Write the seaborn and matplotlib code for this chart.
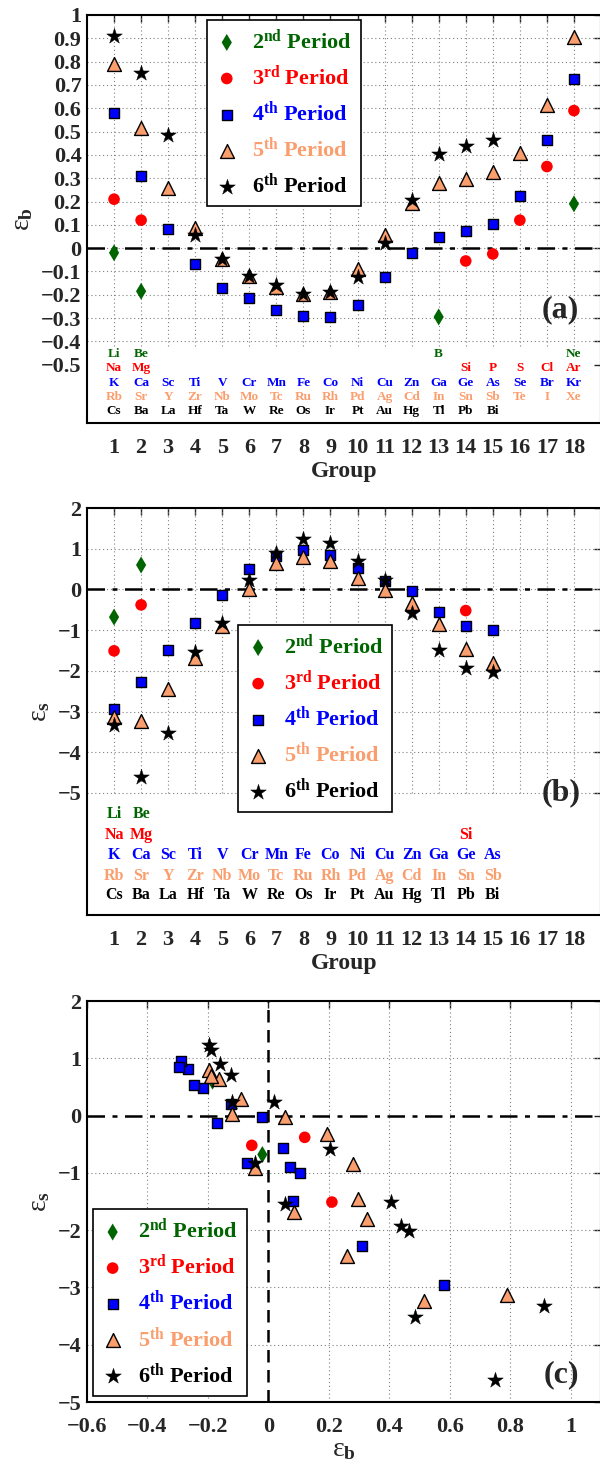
import numpy as np
import pandas as pd
import seaborn as sns
import matplotlib
matplotlib.use('Agg')
from matplotlib import pyplot as plt

sns.set_style('white')
plt.rcParams['font.family'] = ['Liberation Serif', 'DejaVu Serif']
plt.rcParams['font.weight'] = 'bold'
plt.rcParams['axes.labelweight'] = 'bold'
plt.rcParams['mathtext.fontset'] = 'custom'
plt.rcParams['mathtext.rm'] = 'Liberation Serif'
plt.rcParams['mathtext.bf'] = 'Liberation Serif:bold'
plt.rcParams['mathtext.it'] = 'Liberation Serif:italic'

# %% values
Periods = ['2nd', '3rd', '4th', '5th', '6th']

Groups2 = [1, 2, 13, 18]
Elem2 = ['Li', 'Be', 'B', 'Ne']
Eb2 = [-0.02, -0.185, -0.295, 0.19]
Es2 = [-0.68, 0.60, np.nan, np.nan]

Groups3 = [1, 2, 14, 15, 16, 17, 18]
Elem3 = ['Na', 'Mg', 'Si', 'P', 'S', 'Cl', 'Ar']
Eb3 = [0.21, 0.12, -0.055, -0.025, 0.12, 0.35, 0.59]
Es3 = [-1.51, -0.38, -0.52, np.nan, np.nan, np.nan, np.nan]

Groups4 = list(range(1, 19))
Elem4 = ['K', 'Ca', 'Sc', 'Ti', 'V', 'Cr', 'Mn', 'Fe', 'Co', 'Ni', 'Cu', 'Zn',
         'Ga', 'Ge', 'As', 'Se', 'Br', 'Kr']
Eb4 = [0.58, 0.31, 0.08, -0.07, -0.17, -0.215, -0.265, -0.29, -0.295, -0.245,
       -0.125, -0.02, 0.047, 0.072, 0.105, 0.225, 0.465, 0.725]
Es4 = [-2.95, -2.28, -1.49, -0.83, -0.13, 0.49, 0.82, 0.96, 0.84, 0.53, 0.21,
       -0.03, -0.56, -0.89, -1.0, np.nan, np.nan, np.nan]

Groups5 = list(range(1, 19))
Elem5 = ['Rb', 'Sr', 'Y', 'Zr', 'Nb', 'Mo', 'Tc', 'Ru', 'Rh', 'Pd', 'Ag', 'Cd',
         'In', 'Sn', 'Sb', 'Te', 'I', 'Xe']
Eb5 = [0.79, 0.515, 0.26, 0.085, -0.045, -0.12, -0.165, -0.195, -0.19, -0.09,
       0.055, 0.195, 0.28, 0.295, 0.325, 0.41, 0.615, 0.905]
Es5 = [-3.14, -3.24, -2.45, -1.69, -0.91, 0.02, 0.64, 0.80, 0.69, 0.29, -0.02,
       -0.33, -0.85, -1.46, -1.81, np.nan, np.nan, np.nan]

Groups6 = list(range(1, 16))
Elem6 = ['Cs', 'Ba', 'La', 'Hf', 'Ta', 'W', 'Re', 'Os', 'Ir', 'Pt', 'Au', 'Hg',
         'Tl', 'Pb', 'Bi']
Eb6 = [0.91, 0.75, 0.485, 0.055, -0.045, -0.12, -0.16, -0.195, -0.19, -0.125,
       0.02, 0.205, 0.405, 0.44, 0.465]
Es6 = [-3.32, -4.61, -3.52, -1.55, -0.82, 0.23, 0.90, 1.23, 1.14, 0.70, 0.24,
       -0.59, -1.50, -1.92, -2.02]

GroupTicks = list(range(1, 19))
EbTicks = [-0.5, -0.4, -0.3, -0.2, -0.1, 0, 0.1, 0.2, 0.3, 0.4, 0.5, 0.6, 0.7,
           0.8, 0.9, 1]
EsTicks = [-5, -4, -3, -2, -1, 0, 1, 2]
EbTicksC = [-0.6, -0.4, -0.2, 0, 0.2, 0.4, 0.6, 0.8, 1]

# %% build table
rows = []
for per, gr, el, eb, es in zip(Periods,
                               (Groups2, Groups3, Groups4, Groups5, Groups6),
                               (Elem2, Elem3, Elem4, Elem5, Elem6),
                               (Eb2, Eb3, Eb4, Eb5, Eb6),
                               (Es2, Es3, Es4, Es5, Es6)):
    for g, e, b, s in zip(gr, el, eb, es):
        rows.append({'Period': per, 'Group': g, 'Element': e, 'Eb': b, 'Es': s})
dfData = pd.DataFrame(rows)

Style = {
    '2nd': {'color': '#006400', 'marker': 'd', 's': 75, 'edgecolor': 'none', 'lw': 0},
    '3rd': {'color': '#ff0000', 'marker': 'o', 's': 70, 'edgecolor': 'none', 'lw': 0},
    '4th': {'color': '#0000ff', 'marker': 's', 's': 60, 'edgecolor': 'k', 'lw': 1.0},
    '5th': {'color': '#fa9e6e', 'marker': '^', 's': 100, 'edgecolor': 'k', 'lw': 1.0},
    '6th': {'color': 'k', 'marker': '*', 's': 140, 'edgecolor': 'k', 'lw': 0.3},
}
Labels = {'2nd': r'2$^{\mathbf{nd}}$ Period', '3rd': r'3$^{\mathbf{rd}}$ Period',
          '4th': r'4$^{\mathbf{th}}$ Period', '5th': r'5$^{\mathbf{th}}$ Period',
          '6th': r'6$^{\mathbf{th}}$ Period'}


def TickText(v):
    return ('%g' % v).replace('-', '\u2212')


def Scatter(ax, d, xVar, yVar):
    for p in Periods:
        dp = d[d.Period == p].dropna(subset=[xVar, yVar])
        st = Style[p]
        sns.scatterplot(data=dp, x=xVar, y=yVar, ax=ax, marker=st['marker'],
                        color=st['color'], s=st['s'], edgecolor=st['edgecolor'],
                        linewidth=st['lw'], label=Labels[p], zorder=3, legend=False)


def Legend(ax, **kw):
    h, l = ax.get_legend_handles_labels()
    leg = ax.legend(h, l, frameon=True, fancybox=False, framealpha=1,
                    edgecolor='k', scatterpoints=1, borderpad=0.4,
                    borderaxespad=0, labelspacing=0.52, handletextpad=0.65,
                    handlelength=1.0, prop={'size': 16, 'weight': 'bold'}, **kw)
    leg.get_frame().set_linewidth(1.2)
    for t, p in zip(leg.get_texts(), Periods):
        t.set_color(Style[p]['color'])
    leg.set_zorder(6)


def Frame(ax):
    for sp in ax.spines.values():
        sp.set_linewidth(1.5)
        sp.set_color('k')
    ax.tick_params(axis='both', direction='in', length=5, width=1,
                   top=True, right=True, labelsize=16, pad=4)
    ax.tick_params(axis='x', pad=11)
    for t in ax.get_xticklabels() + ax.get_yticklabels():
        t.set_fontweight('bold')


GridKw = dict(colors='0.5', linestyles=(0, (1, 2.5)), linewidth=0.8, zorder=1)
ZeroKw = dict(color='k', linestyle=(0, (7, 3, 2, 3)), linewidth=1.8, zorder=2)

fig = plt.figure(figsize=(6, 14.66), dpi=100)
axW = 514 / 600
axA = fig.add_axes([87 / 600, 1 - 423 / 1466, axW, 408 / 1466])
axB = fig.add_axes([87 / 600, 1 - 915 / 1466, axW, 407 / 1466])
axC = fig.add_axes([87 / 600, 1 - 1402 / 1466, axW, 401 / 1466])

# %% panel (a)
ax = axA
ax.set_xlim(0, 19)
ax.set_ylim(-0.75, 1)
ax.vlines(GroupTicks, -0.42, 1, **GridKw)
ax.hlines([t for t in EbTicks if t > -0.45], 0, 19, **GridKw)
ax.axhline(0, **ZeroKw)
Scatter(ax, dfData, 'Group', 'Eb')
ax.set_xticks(GroupTicks)
ax.set_xticklabels([str(g) for g in GroupTicks])
ax.set_yticks(EbTicks)
ax.set_yticklabels([TickText(t) for t in EbTicks])
Frame(ax)
ax.set_xlabel('Group', fontsize=17, labelpad=2)
ax.set_ylabel('\u03b5$_\\mathrm{b}$', fontsize=20, fontweight='normal', labelpad=4)
Legend(ax, loc='upper left', bbox_to_anchor=(0.233, 0.988))
RowsA = [-0.455, -0.515, -0.577, -0.637, -0.698]
for p, yr in zip(Periods, RowsA):
    d = dfData[(dfData.Period == p) & dfData.Eb.notna()]
    for _, r in d.iterrows():
        ax.text(r.Group, yr, r.Element, ha='center', va='center', fontsize=9.5,
                fontweight='bold', color=Style[p]['color'])
ax.text(0.92, 0.277, '(a)', transform=ax.transAxes, ha='center', va='center',
        fontsize=23, fontweight='bold')

# %% panel (b)
ax = axB
ax.set_xlim(0, 19)
ax.set_ylim(-8, 2)
ax.vlines(GroupTicks, -5, 2, **GridKw)
ax.hlines(EsTicks, 0, 19, **GridKw)
ax.axhline(0, **ZeroKw)
Scatter(ax, dfData, 'Group', 'Es')
ax.set_xticks(GroupTicks)
ax.set_xticklabels([str(g) for g in GroupTicks])
ax.set_yticks(EsTicks)
ax.set_yticklabels([TickText(t) for t in EsTicks])
Frame(ax)
ax.set_xlabel('Group', fontsize=17, labelpad=2)
ax.set_ylabel('\u03b5$_\\mathrm{s}$', fontsize=20, fontweight='normal', labelpad=4)
Legend(ax, loc='upper left', bbox_to_anchor=(0.294, 0.7125))
RowsB = [-5.53, -6.03, -6.52, -7.03, -7.52]
for p, yr in zip(Periods, RowsB):
    d = dfData[(dfData.Period == p) & dfData.Es.notna()]
    for _, r in d.iterrows():
        ax.text(r.Group, yr, r.Element, ha='center', va='center', fontsize=11.5,
                fontweight='bold', color=Style[p]['color'])
ax.text(0.922, 0.30, '(b)', transform=ax.transAxes, ha='center', va='center',
        fontsize=23, fontweight='bold')

# %% panel (c)
ax = axC
ax.set_xlim(-0.6, 1.1)
ax.set_ylim(-5, 2)
ax.vlines([t for t in EbTicksC if t != 0], -5, 2, **GridKw)
ax.hlines([t for t in EsTicks if t != 0], -0.6, 1.1, **GridKw)
ax.axhline(0, **ZeroKw)
ax.axvline(0, color='k', linestyle=(0, (5, 3)), linewidth=1.8, zorder=2)
Scatter(ax, dfData, 'Eb', 'Es')
ax.set_xticks(EbTicksC)
ax.set_xticklabels([TickText(t) for t in EbTicksC])
ax.set_yticks(EsTicks)
ax.set_yticklabels([TickText(t) for t in EsTicks])
Frame(ax)
ax.set_xlabel('\u03b5$_\\mathrm{b}$', fontsize=20, fontweight='normal', labelpad=0)
ax.set_ylabel('\u03b5$_\\mathrm{s}$', fontsize=20, fontweight='normal', labelpad=4)
Legend(ax, loc='lower left', bbox_to_anchor=(0.011, 0.015))
ax.text(0.922, 0.067, '(c)', transform=ax.transAxes, ha='center', va='center',
        fontsize=23, fontweight='bold')

fig.savefig('out.png', dpi=100)
